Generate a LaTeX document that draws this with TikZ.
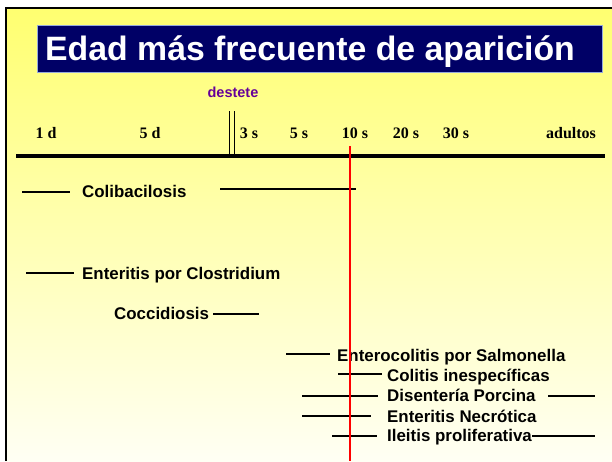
\documentclass[tikz,border=0pt]{standalone}
\usepackage{fontspec}
\setmainfont{Liberation Sans}
\newfontfamily\timesfont{Liberation Serif}
\usetikzlibrary{positioning}

\definecolor{slideyellow}{RGB}{255,255,112}
\definecolor{slidecream}{RGB}{255,255,244}
\definecolor{titlenavy}{RGB}{0,0,102}
\definecolor{titleedge}{RGB}{150,170,220}
\definecolor{weanpurple}{RGB}{102,0,153}

\tikzset{
  disease/.style={font=\fontsize{16.9}{17}\selectfont\bfseries, inner sep=0pt, anchor=base west},
  agelabel/.style={font=\timesfont\fontsize{16}{16}\selectfont\bfseries, inner sep=0pt, anchor=base},
  span/.style={line width=1.6pt},
}

\begin{document}
\begin{tikzpicture}[x=1pt, y=-1pt]
\useasboundingbox (0,0) rectangle (612,461);
% slide background and frame
\fill[white] (0,0) rectangle (612,461);
\shade[top color=slideyellow, bottom color=slidecream] (6,8) rectangle (612,461);
\draw[line width=2.5pt] (6,461) -- (6,8) -- (612,8);

% title bar
\draw[fill=titlenavy, draw=titleedge, line width=0.6pt] (37,25) rectangle (602,72);
\node[text=white, inner sep=0pt, anchor=base west,
      font=\fontsize{33.8}{34}\selectfont\bfseries] (title) at (45,60) {Edad más frecuente de aparición};

% time axis
\node[font=\fontsize{14.5}{15}\selectfont\bfseries, text=weanpurple, inner sep=0pt, anchor=base] (destete) at (233,97) {destete};
\draw[line width=3.3pt] (16,156) coordinate (axis w) -- (605,156) coordinate (axis e);
\draw[line width=0.8pt] (229.5,111) -- (229.5,155) (234,111) -- (234,155);
\foreach \x/\t [count=\i] in {46/1 d, 150/5 d, 249/3 s, 299/5 s, 355/10 s, 406/20 s, 456/30 s, 571/adultos}
  \node[agelabel] (age\i) at (\x,138) {\t};

% diseases
\node[disease] (coli) at (82,197) {Colibacilosis};
\draw[span] (22,192) -- ++(48,0);
\draw[span] (220,189) -- (356,189);

\node[disease] (clos) at (82,279) {Enteritis por Clostridium};
\draw[span] (26,273) -- ++(48,0);

\node[disease] (cocc) at (114,319) {Coccidiosis};
\draw[span] (213,314) -- ++(46,0);

\node[disease] (salm) at (337,361) {Enterocolitis por Salmonella};
\draw[span] (286,354) -- ++(44,0);

\node[disease] (coli2) at (387,381) {Colitis inespecíficas};
\draw[span] (338,374) -- ++(44,0);

\node[disease] (dise) at (387,401) {Disentería Porcina};
\draw[span] (302,396) -- ++(76,0);
\draw[span] (548,396) -- (595,396);

\node[disease] (necr) at (387,422) {Enteritis Necrótica};
\draw[span] (302,416) -- ++(69,0);

\node[disease] (ilei) at (387,441) {Ileitis proliferativa};
\draw[span] (332,436) -- ++(45,0);
\draw[span] (ilei.east |- 0,436) -- (595,436);

% 10 weeks mark
\draw[red, line width=2.2pt] (350,146) -- (350,461);
\end{tikzpicture}
\end{document}
